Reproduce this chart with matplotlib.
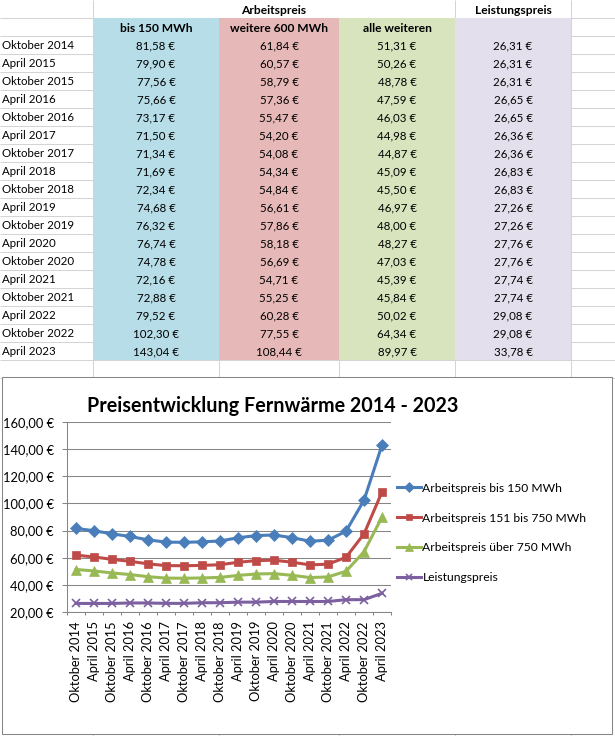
"""
Fernwärme price table + chart, drawn like the spreadsheet screenshot.
"""

import numpy as np
import matplotlib
matplotlib.use("Agg")
import matplotlib.pyplot as plt
import matplotlib.patches as mpatches
from matplotlib.font_manager import FontProperties
from matplotlib.textpath import TextPath

FONT = ["Lato", "DejaVu Sans"]
plt.rcParams["font.family"] = FONT

# ─────────────────────────────────────────────────────────────────────────────
# Data
# ─────────────────────────────────────────────────────────────────────────────

periods = [
    "Oktober 2014", "April 2015", "Oktober 2015", "April 2016",
    "Oktober 2016", "April 2017", "Oktober 2017", "April 2018",
    "Oktober 2018", "April 2019", "Oktober 2019", "April 2020",
    "Oktober 2020", "April 2021", "Oktober 2021", "April 2022",
    "Oktober 2022", "April 2023",
]
bis_150 = [81.58, 79.90, 77.56, 75.66, 73.17, 71.50, 71.34, 71.69, 72.34,
           74.68, 76.32, 76.74, 74.78, 72.16, 72.88, 79.52, 102.30, 143.04]
weitere_600 = [61.84, 60.57, 58.79, 57.36, 55.47, 54.20, 54.08, 54.34, 54.84,
               56.61, 57.86, 58.18, 56.69, 54.71, 55.25, 60.28, 77.55, 108.44]
alle_weiteren = [51.31, 50.26, 48.78, 47.59, 46.03, 44.98, 44.87, 45.09, 45.50,
                 46.97, 48.00, 48.27, 47.03, 45.39, 45.84, 50.02, 64.34, 89.97]
leistungspreis = [26.31, 26.31, 26.31, 26.65, 26.65, 26.36, 26.36, 26.83, 26.83,
                  27.26, 27.26, 27.76, 27.76, 27.74, 27.74, 29.08, 29.08, 33.78]

group_headers = ["Arbeitspreis", "Leistungspreis"]
col_headers = ["bis 150 MWh", "weitere 600 MWh", "alle weiteren", ""]
series_labels = [
    "Arbeitspreis bis 150 MWh",
    "Arbeitspreis 151 bis 750 MWh",
    "Arbeitspreis über 750 MWh",
    "Leistungspreis",
]
chart_title = "Preisentwicklung Fernwärme 2014 - 2023"
y_ticks = [20, 40, 60, 80, 100, 120, 140, 160]

# ─────────────────────────────────────────────────────────────────────────────
# Layout helpers (pixel coordinates, origin top-left)
# ─────────────────────────────────────────────────────────────────────────────

W, H, DPI = 615, 736, 100
ROW_H = 18
ROW_TOP = 17.5                      # bottom of the first header row
COL_EDGES = [93, 219, 339, 455, 571]
FILLS = ["#B7DEE8", "#E6B9B8", "#D7E4BD", "#E4DFEC"]
GRID_C = "#D4D4D4"
AXIS_C = "#868686"
COLORS = ["#4A7EBB", "#BE4B48", "#98B954", "#7D60A0"]
MARKERS = [("D", 6.0), ("s", 5.8), ("^", 7.0), ("x", 6.0)]


def fit_size(text, width_px, weight="normal"):
    """Font size (pt) so that `text` is `width_px` wide."""
    prop = FontProperties(family=FONT, weight=weight)
    w = TextPath((0, 0), text, size=10, prop=prop).get_extents().width
    return 10 * width_px / (w * DPI / 72)


def euro(v):
    return f"{v:.2f}".replace(".", ",") + " €"


fs_body = fit_size("Oktober 2014", 71)
fs_head = fit_size("bis 150 MWh", 71, "bold")
fs_title = fit_size(chart_title, 367, "bold")
fs_tick = fit_size("Oktober 2014", 80)
fs_legend = fit_size(series_labels[0], 139)

fig = plt.figure(figsize=(W / DPI, H / DPI), dpi=DPI)
bg = fig.add_axes([0, 0, 1, 1])
bg.set_xlim(0, W)
bg.set_ylim(H, 0)
bg.axis("off")

# ── Spreadsheet grid ─────────────────────────────────────────────────────────
n = len(periods)
for k in range(n + 3):
    bg.hlines(ROW_TOP + k * ROW_H, 0, W, color=GRID_C, lw=0.75, zorder=1)
for x in COL_EDGES:
    bg.vlines(x, ROW_TOP, H, color=GRID_C, lw=0.75, zorder=1)
for x in (COL_EDGES[0], COL_EDGES[3], COL_EDGES[4]):
    bg.vlines(x, 0, ROW_TOP, color=GRID_C, lw=0.75, zorder=1)

table_bottom = ROW_TOP + (n + 1) * ROW_H
for (x0, x1), fc in zip(zip(COL_EDGES[:-1], COL_EDGES[1:]), FILLS):
    bg.add_patch(mpatches.Rectangle((x0, ROW_TOP), x1 - x0, table_bottom - ROW_TOP,
                                    facecolor=fc, edgecolor="none", zorder=2))

# ── Table text ───────────────────────────────────────────────────────────────
centers = [(a + b) / 2 for a, b in zip(COL_EDGES[:-1], COL_EDGES[1:])]
bg.text((COL_EDGES[0] + COL_EDGES[3]) / 2, 13.7, group_headers[0], ha="center",
        va="baseline", fontsize=fs_head, weight="bold", zorder=3)
bg.text(centers[3], 13.7, group_headers[1], ha="center", va="baseline",
        fontsize=fs_head, weight="bold", zorder=3)
for cx, label in zip(centers, col_headers):
    bg.text(cx, 31.7, label, ha="center", va="baseline",
            fontsize=fs_head, weight="bold", zorder=3)

columns = [bis_150, weitere_600, alle_weiteren, leistungspreis]
for i, period in enumerate(periods):
    base = 49.3 + i * ROW_H
    bg.text(1.5, base, period, ha="left", va="baseline", fontsize=fs_body, zorder=3)
    for cx, col in zip(centers, columns):
        bg.text(cx, base, euro(col[i]), ha="center", va="baseline",
                fontsize=fs_body, zorder=3)

# ── Chart frame and title ────────────────────────────────────────────────────
bg.add_patch(mpatches.Rectangle((2, 377), 610, 357, facecolor="white",
                                edgecolor=AXIS_C, lw=0.75, zorder=5))
bg.text(272.5, 412, chart_title, ha="center", va="baseline",
        fontsize=fs_title, weight="bold", zorder=6)

# ── Line chart ───────────────────────────────────────────────────────────────
left, right, top, bottom = 67, 391, 422, 612
ax = fig.add_axes([left / W, 1 - bottom / H, (right - left) / W, (bottom - top) / H])
ax.patch.set_alpha(0)

x = np.arange(n)
handles = []
for vals, color, (m, ms) in zip(columns, COLORS, MARKERS):
    (ln,) = ax.plot(x, vals, color=color, lw=2.2, marker=m, markersize=ms,
                    markeredgewidth=1.2 if m == "x" else 0.5,
                    markeredgecolor=color, zorder=3)
    handles.append(ln)

ax.set_xlim(-0.5, n - 0.5)
ax.set_ylim(y_ticks[0], y_ticks[-1])
ax.set_yticks(y_ticks)
ax.set_yticklabels([euro(v) for v in y_ticks], fontsize=fs_tick)
ax.set_xticks(x)
ax.set_xticklabels(periods, rotation=90, fontsize=fs_tick)
ax.set_xticks(np.arange(n + 1) - 0.5, minor=True)

ax.tick_params(axis="x", which="major", length=0, pad=6.5)
ax.tick_params(axis="x", which="minor", length=2.5, width=0.75, color=AXIS_C)
ax.tick_params(axis="y", length=3.6, width=0.75, color=AXIS_C, pad=5.8)

for side in ("top", "right"):
    ax.spines[side].set_visible(False)
for side in ("left", "bottom"):
    ax.spines[side].set_color(AXIS_C)
    ax.spines[side].set_linewidth(0.75)
ax.yaxis.grid(True, color=AXIS_C, lw=0.75)
ax.set_axisbelow(True)

fpx = fs_legend * DPI / 72
ax.legend(handles, series_labels, loc="center left",
          bbox_to_anchor=(397 / W, 1 - 533 / H), bbox_transform=fig.transFigure,
          frameon=False, borderpad=0, borderaxespad=0, fontsize=fs_legend,
          handlelength=24 / fpx, handletextpad=1.5 / fpx,
          labelspacing=34 / fpx - 1.25, markerscale=0.8)

fig.savefig("out.png", dpi=DPI)
plt.close(fig)
